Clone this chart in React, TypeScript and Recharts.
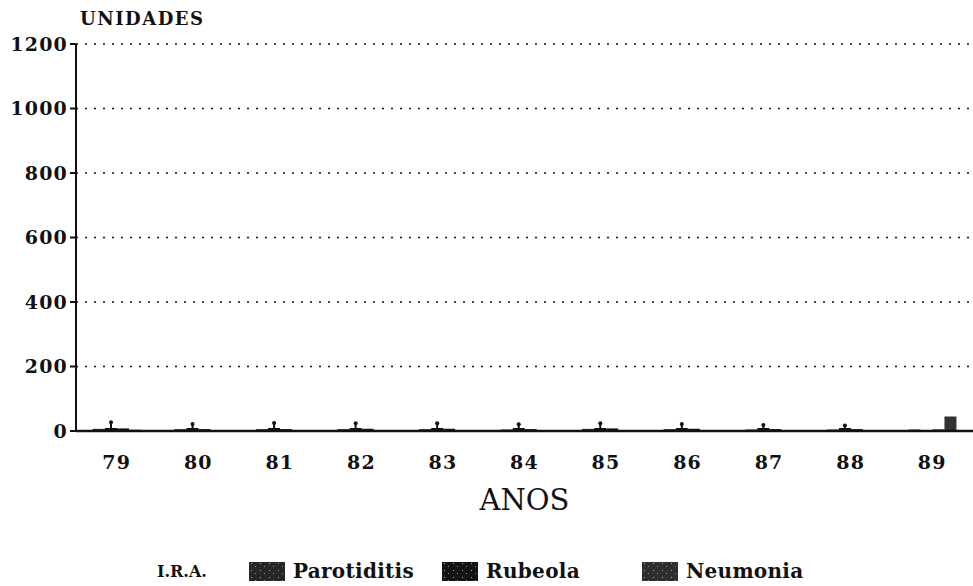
import React from 'react';
import { BarChart, Bar, XAxis, YAxis, CartesianGrid, Legend } from 'recharts';

const YEARS = ['79', '80', '81', '82', '83', '84', '85', '86', '87', '88', '89'];
const IRA = [5, 4, 4, 4, 4, 3, 5, 4, 3, 3, 3];
const PAROTIDITIS = [30, 25, 28, 27, 27, 24, 27, 25, 22, 20, 3];
const RUBEOLA = [8, 6, 6, 7, 7, 6, 8, 7, 6, 6, 5];
const NEUMONIA = [4, 3, 3, 3, 3, 3, 3, 3, 2, 3, 45];
const Y_TICKS = [0, 200, 400, 600, 800, 1000, 1200];

const SERIES = [
  { key: 'ira', name: 'I.R.A.', fill: '#ffffff', gap: 42 },
  { key: 'parotiditis', name: 'Parotiditis', fill: '#262626', gap: 28 },
  { key: 'rubeola', name: 'Rubeola', fill: '#141414', gap: 62 },
  { key: 'neumonia', name: 'Neumonia', fill: '#2e2e2e', gap: 0 },
];

const data = YEARS.map((year, i) => ({
  year,
  ira: IRA[i],
  parotiditis: PAROTIDITIS[i],
  rubeola: RUBEOLA[i],
  neumonia: NEUMONIA[i],
}));

const FONT = '"DejaVu Serif", serif';
const INK = '#111';

// parotiditis is drawn as a thin stem with a dot, as in the scan
const Stem = (props: any) => {
  const { x, y, width, height } = props;
  if (height == null || height < 4) {
    return <rect x={x} y={y} width={width} height={Math.max(height, 0)} fill={INK} />;
  }
  const cx = x + width / 2;
  return (
    <g>
      <rect x={x} y={y + height - 3} width={width} height={3} fill={INK} />
      <line x1={cx} x2={cx} y1={y} y2={y + height} stroke={INK} strokeWidth={2} />
      <circle cx={cx} cy={y + 1} r={2} fill={INK} />
    </g>
  );
};

// speckled swatch like the photocopied legend
const Swatch = ({ fill, id }: { fill: string; id: string }) => (
  <svg width={36} height={19} style={{ marginRight: 8 }}>
    <defs>
      <pattern id={id} width={9} height={7} patternUnits="userSpaceOnUse">
        <rect width={9} height={7} fill={fill} />
        <rect x={2} y={1} width={1} height={1} fill="#aaa" />
        <rect x={6} y={4} width={1} height={1} fill="#888" />
      </pattern>
    </defs>
    <rect width={36} height={19} fill={`url(#${id})`} />
  </svg>
);

const LegendContent = () => (
  <div
    style={{
      display: 'flex',
      alignItems: 'center',
      fontFamily: FONT,
      fontWeight: 'bold',
      fontSize: 20,
      color: INK,
      paddingLeft: 157,
      paddingTop: 13,
    }}
  >
    {SERIES.map((s, i) => (
      <div key={s.key} style={{ display: 'flex', alignItems: 'center', marginRight: s.gap }}>
        {i > 0 && <Swatch fill={s.fill} id={`sw-${s.key}`} />}
        <span style={{ fontSize: i === 0 ? 16 : 20, letterSpacing: i === 0 ? 0 : 0.3 }}>{s.name}</span>
      </div>
    ))}
  </div>
);

const TICK_STYLE = { fontFamily: FONT, fontWeight: 'bold', fontSize: 19, fill: INK, letterSpacing: 1.2 };

export default function App() {
  return (
    <div style={{ position: 'relative', width: 973, height: 586, background: '#fff' }}>
      <style>{'body{margin:0}'}</style>
      <div
        style={{
          position: 'absolute',
          left: 80,
          top: 8,
          fontFamily: FONT,
          fontWeight: 'bold',
          fontSize: 18,
          letterSpacing: 1.5,
          color: INK,
        }}
      >
        UNIDADES
      </div>
      <BarChart
        width={973}
        height={586}
        data={data}
        margin={{ top: 44, right: 0, bottom: 0, left: 0 }}
        barGap={0}
        barSize={12}
      >
        <CartesianGrid vertical={false} stroke={INK} strokeDasharray="2 7" strokeWidth={1.5} />
        <XAxis
          dataKey="year"
          height={115}
          axisLine={{ stroke: INK, strokeWidth: 2.5 }}
          tickLine={false}
          tick={TICK_STYLE}
          tickMargin={19}
          label={{
            value: 'ANOS',
            position: 'insideTop',
            offset: 58,
            style: { fontFamily: FONT, fontSize: 29, fill: INK },
          }}
        />
        <YAxis
          domain={[0, 1200]}
          ticks={Y_TICKS}
          width={76}
          axisLine={{ stroke: INK, strokeWidth: 2 }}
          tickLine={{ stroke: INK, strokeWidth: 2 }}
          tickSize={6}
          tickMargin={2}
          tick={TICK_STYLE}
          interval={0}
        />
        <Legend verticalAlign="bottom" height={40} content={<LegendContent />} />
        <Bar dataKey="ira" name="I.R.A." fill="#fff" stroke={INK} strokeWidth={1} isAnimationActive={false} />
        <Bar dataKey="parotiditis" name="Parotiditis" fill={INK} shape={<Stem />} isAnimationActive={false} />
        <Bar dataKey="rubeola" name="Rubeola" fill="#141414" isAnimationActive={false} />
        <Bar dataKey="neumonia" name="Neumonia" fill="#333" isAnimationActive={false} />
      </BarChart>
    </div>
  );
}
